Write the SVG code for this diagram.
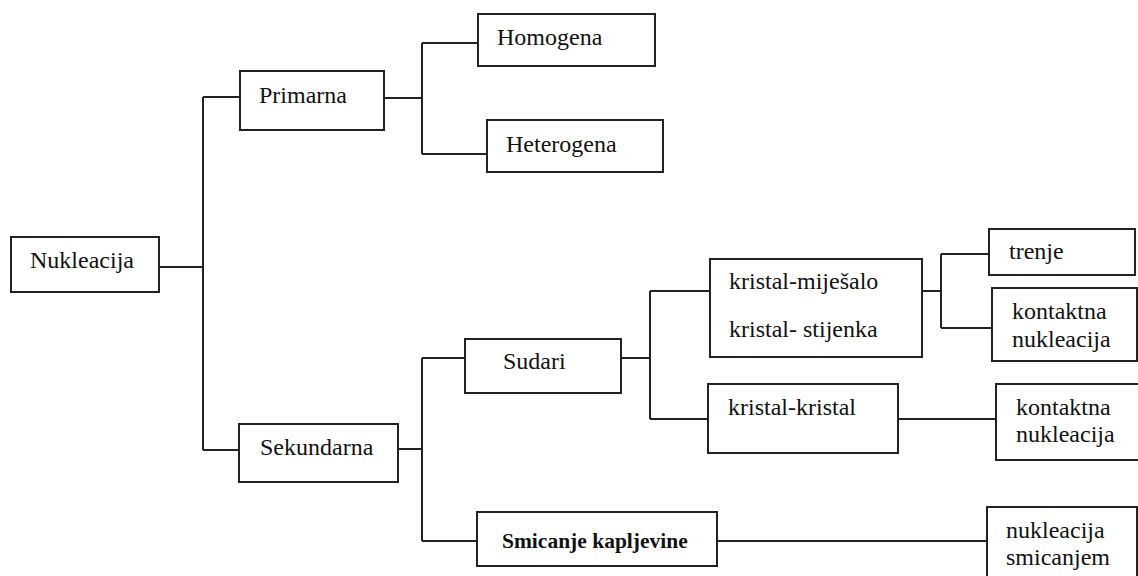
<svg xmlns="http://www.w3.org/2000/svg" width="1138" height="576" viewBox="0 0 1138 576">
<style>
rect.box{fill:#fff;stroke:#222;stroke-width:2}
.conn path{fill:none;stroke:#222;stroke-width:2}
text{font-family:'Liberation Serif','Times New Roman','DejaVu Serif',serif;font-size:24px;fill:#111}
text.b{font-weight:bold;font-size:21.5px}
</style>
<rect width="1138" height="576" fill="#fff"/>
<g class="conn">
<path d="M159 267H203M203 97V450M203 97H240M203 450H239"/>
<path d="M384 98H422M422 43V154M422 43H478M422 154H487"/>
<path d="M398 449H422M422 358V541M422 358H465M422 541H477"/>
<path d="M621 358H650M650 291V419M650 291H710M650 419H708"/>
<path d="M922 291H941M941 254V328M941 254H989M941 328H992"/>
<path d="M898 419H996"/>
<path d="M717 541H987"/>
</g>
<g id="n-nukleacija"><rect class="box" x="11" y="237" width="148" height="55"/><text x="30" y="268">Nukleacija</text></g>
<g id="n-primarna"><rect class="box" x="240" y="71" width="144" height="59"/><text x="259" y="103">Primarna</text></g>
<g id="n-homogena"><rect class="box" x="478" y="14" width="177" height="52"/><text x="497" y="45">Homogena</text></g>
<g id="n-heterogena"><rect class="box" x="487" y="120" width="176" height="52"/><text x="506" y="152">Heterogena</text></g>
<g id="n-sekundarna"><rect class="box" x="239" y="424" width="159" height="58"/><text x="260" y="455">Sekundarna</text></g>
<g id="n-sudari"><rect class="box" x="465" y="339" width="156" height="54"/><text x="503" y="369">Sudari</text></g>
<g id="n-smicanje"><rect class="box" x="477" y="512" width="240" height="54"/><text class="b" x="502" y="548">Smicanje kapljevine</text></g>
<g id="n-km"><rect class="box" x="710" y="259" width="212" height="98"/><text x="729" y="289">kristal-miješalo</text><text x="729" y="337">kristal- stijenka</text></g>
<g id="n-kk"><rect class="box" x="708" y="384" width="190" height="69"/><text x="728" y="415">kristal-kristal</text></g>
<g id="n-trenje"><rect class="box" x="989" y="229" width="146" height="46"/><text x="1009" y="259">trenje</text></g>
<g id="n-kontaktna1"><rect class="box" x="992" y="288" width="145" height="73"/><text x="1012" y="319">kontaktna</text><text x="1012" y="347">nukleacija</text></g>
<g id="n-kontaktna2"><rect class="box" x="996" y="384" width="145" height="76"/><text x="1016" y="415">kontaktna</text><text x="1016" y="442">nukleacija</text></g>
<g id="n-smicanjem"><rect class="box" x="987" y="507" width="150" height="80"/><text x="1006" y="538">nukleacija</text><text x="1006" y="565">smicanjem</text></g>
</svg>
